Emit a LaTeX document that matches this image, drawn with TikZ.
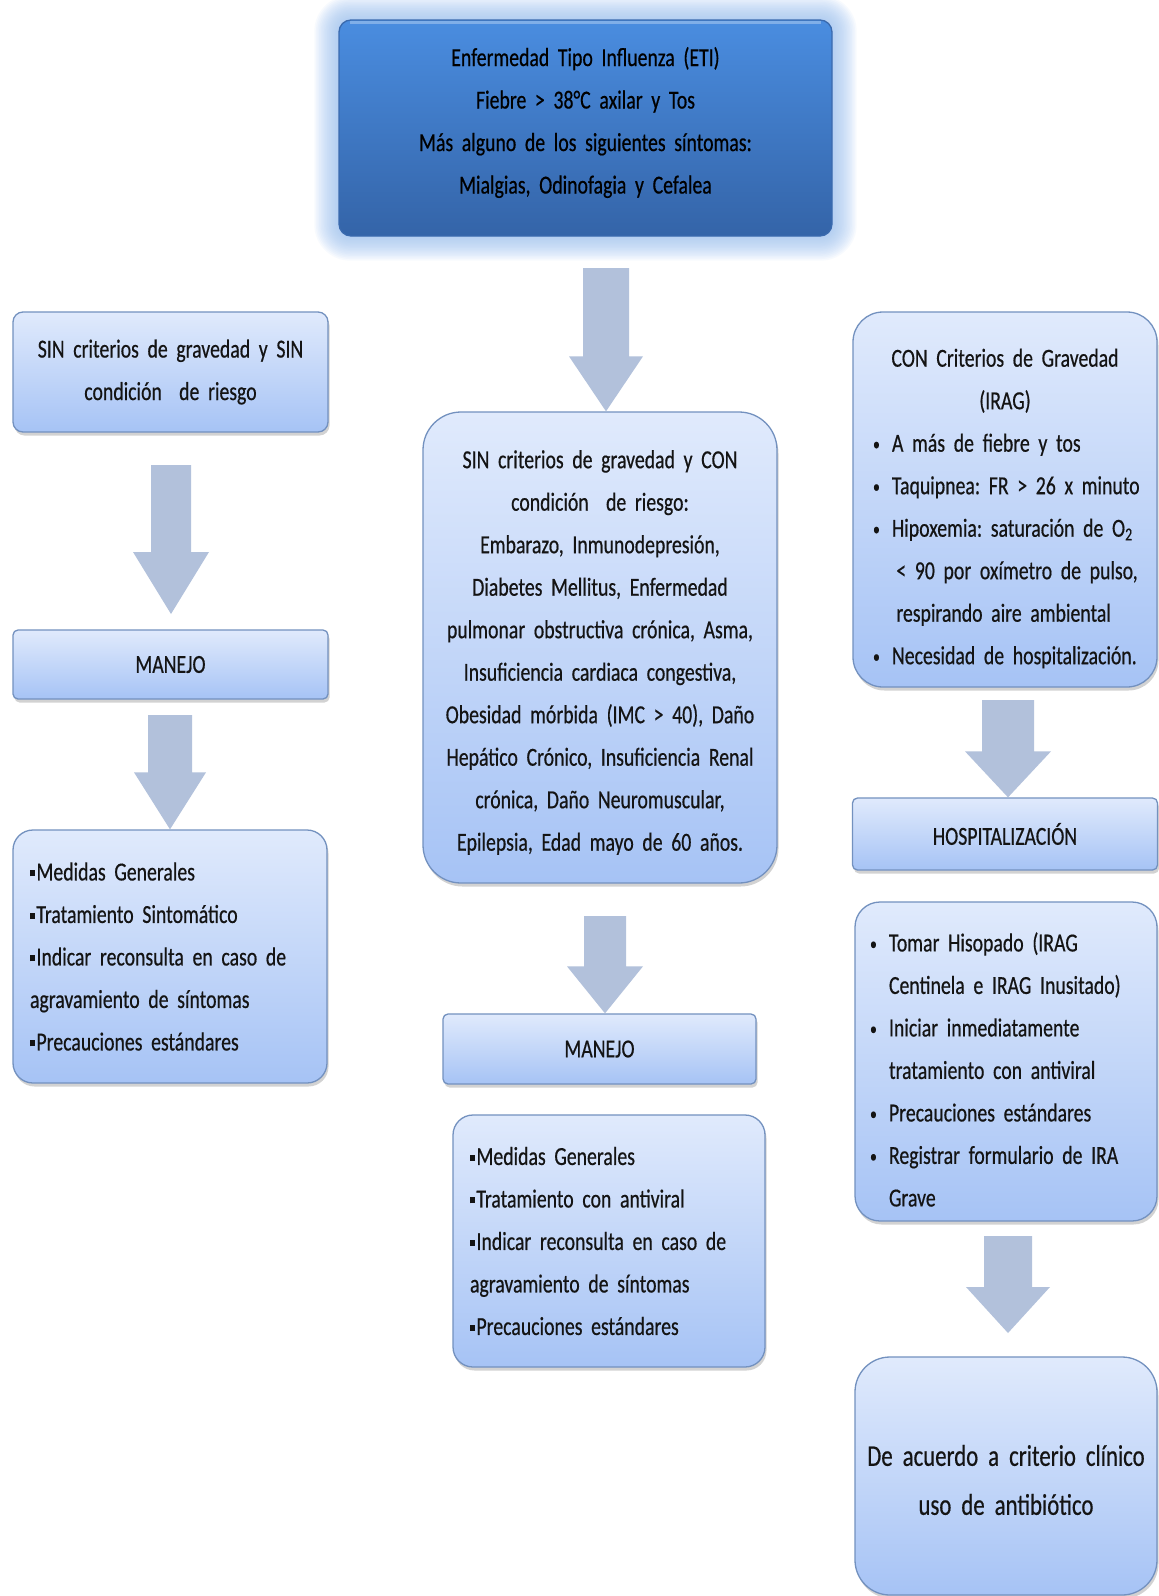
\documentclass[tikz,border=0pt]{standalone}
\usepackage{fontspec}
\setmainfont{Carlito}[FakeStretch=0.76,FakeBold=0.5]
\frenchspacing
\usetikzlibrary{calc,shadows,backgrounds}
\definecolor{arrc}{HTML}{B2C1DB}
\definecolor{ltop}{HTML}{E0EAFC}
\definecolor{lbot}{HTML}{A6C3F5}
\definecolor{lbord}{HTML}{7391BF}
\definecolor{dtop}{HTML}{4A8DE0}
\definecolor{dbot}{HTML}{3464A8}
\definecolor{dbord}{HTML}{3A6AAE}
\definecolor{glowc}{HTML}{9CC2F2}
\definecolor{txt}{HTML}{141414}
\newlength\bulw
\newcommand\bitem[1]{\makebox[\bulw][l]{\makebox[19pt][l]{\raisebox{1.5pt}{\scalebox{0.7}{\textbullet}}}#1}}
\newcommand\citem[1]{\makebox[\bulw][l]{\hspace*{19pt}#1}}
\newcommand\ctr[1]{\makebox[\bulw][c]{#1}}
\newcommand\sqb{\raisebox{4pt}{\rule{5pt}{6pt}}\hspace{1.5pt}}
\newcommand\regfont{\fontsize{26pt}{42.5pt}\selectfont\spaceskip=3.3pt plus 1pt minus 0.5pt\relax}
\newcommand\bigfont{\fontsize{30pt}{49pt}\selectfont\spaceskip=3.9pt plus 1pt minus 0.5pt\relax}
% block arrow: start, tip, half shaft, half head, head length
\newcommand\blockarr[5]{%
  \fill[arrc] let \p1=(#1), \p2=(#2) in
    (\x1-#3,\y1) -- (\x1+#3,\y1) -- (\x1+#3,\y2+#5) -- (\x1+#4,\y2+#5)
    -- (\x1,\y2) -- (\x1-#4,\y2+#5) -- (\x1-#3,\y2+#5) -- cycle;}
\begin{document}
\begin{tikzpicture}[x=1pt,y=-1pt,
  every node/.style={inner sep=0pt, text=txt, font=\regfont},
  lbox/.style={draw=lbord, line width=1.3pt, top color=ltop, bottom color=lbot,
     rounded corners=#1,
     drop shadow={shadow xshift=1.5pt, shadow yshift=-3.5pt, opacity=0.35}},
  lbox/.default=10pt,
  dbox/.style={draw=dbord, line width=1.3pt, top color=dtop, bottom color=dbot,
     rounded corners=12pt}
]
\useasboundingbox (0,0) rectangle (1159,1596);
\begin{scope}[on background layer]
  \fill[white] (0,0) rectangle (1159,1596);
\end{scope}

% top box
\node[dbox, minimum width=493pt, minimum height=216pt] (eti) at (585.5,128) {};
\begin{scope}[on background layer]
  \foreach \i [evaluate=\i as \d using 1.6*\i, evaluate=\i as \rr using 12+1.6*\i] in {1,...,15}{
    \fill[glowc, opacity=0.075, rounded corners=\rr pt]
      ($(eti.north west)+(-\d,-\d)$) rectangle ($(eti.south east)+(\d,\d)$);
  }
\end{scope}
\draw[white, opacity=0.3, line width=3pt]
  ($(eti.north west)+(12,3)$) -- ($(eti.north east)+(-12,3)$);
\node[text width=480pt, align=center, text=black] (etit) at ($(eti.center)+(0,-5.5)$)
  {Enfermedad Tipo Influenza (ETI)\\Fiebre > 38°C axilar y Tos\\Más alguno de los siguientes síntomas:\\Mialgias, Odinofagia y Cefalea};

% left column
\node[lbox=10pt, minimum width=315pt, minimum height=120pt, text width=300pt, align=center]
  (l1) at (170.5,372) {SIN criterios de gravedad y SIN\\condición~ de riesgo};
\node[lbox=5pt, minimum width=315pt, minimum height=69pt, align=center]
  (lm) at (170.5,664.5) {MANEJO};
\node[lbox=20pt, minimum width=314pt, minimum height=253pt, text width=280pt, align=left]
  (l3) at (170,956.5) {\sqb Medidas Generales\\\sqb Tratamiento Sintomático\\\sqb Indicar reconsulta en caso de\\agravamiento de síntomas\\\sqb Precauciones estándares};

% middle column
\node[lbox=38pt, minimum width=354pt, minimum height=471pt] (mid) at (600,647.5) {};
\node[text width=345pt, align=center] (midt) at ($(mid.center)+(0,5)$)
  {SIN criterios de gravedad y CON\\condición~ de riesgo:\\Embarazo, Inmunodepresión,\\Diabetes Mellitus, Enfermedad\\pulmonar obstructiva crónica, Asma,\\Insuficiencia cardiaca congestiva,\\Obesidad mórbida (IMC > 40), Daño\\Hepático Crónico, Insuficiencia Renal\\crónica, Daño Neuromuscular,\\Epilepsia, Edad mayo de 60 años.};
\node[lbox=5pt, minimum width=313pt, minimum height=70pt, align=center]
  (mm) at (599.5,1049) {MANEJO};
\node[lbox=20pt, minimum width=312pt, minimum height=252pt, text width=278pt, align=left]
  (m3) at (609,1241) {\sqb Medidas Generales\\\sqb Tratamiento con antiviral\\\sqb Indicar reconsulta en caso de\\agravamiento de síntomas\\\sqb Precauciones estándares};

% right column
\node[lbox=30pt, minimum width=304pt, minimum height=375pt] (r1) at (1005,499.5) {};
\node[text width=264pt, align=left] (r1t) at ($(r1.center)+(0,9)$)
  {\setlength\bulw{264pt}\ctr{CON Criterios de Gravedad}\\\ctr{(IRAG)}\\\bitem{A más de fiebre y tos}\\\bitem{Taquipnea: FR > 26 x minuto}\\\bitem{Hipoxemia: saturación de O\textsubscript{2}}\\\citem{\,< 90 por oxímetro de pulso,}\\\citem{\,respirando aire ambiental}\\\bitem{Necesidad de hospitalización.}};
\node[lbox=5pt, minimum width=305pt, minimum height=72pt, align=center]
  (rh) at (1005,834) {HOSPITALIZACIÓN};
\node[lbox=25pt, minimum width=302pt, minimum height=319pt] (r3) at (1006,1061.5) {};
\node[text width=272pt, align=left] (r3t) at ($(r3.center)+(0,8)$)
  {\setlength\bulw{272pt}\bitem{Tomar Hisopado (IRAG}\\\citem{Centinela e IRAG Inusitado)}\\\bitem{Iniciar inmediatamente}\\\citem{tratamiento con antiviral}\\\bitem{Precauciones estándares}\\\bitem{Registrar formulario de IRA}\\\citem{Grave}};
\node[lbox=35pt, minimum width=302pt, minimum height=238pt] (r4) at (1006,1476) {};
\node[text width=290pt, align=center, font=\bigfont] (r4t) at ($(r4.center)+(0,4)$)
  {De acuerdo a criterio clínico\\uso de antibiótico};

% block arrows
\coordinate (a1s) at (606,268);
\blockarr{a1s}{a1s |- mid.north}{23pt}{37pt}{55pt}
\coordinate (a2s) at (171,465);
\coordinate (a2e) at (171,614);
\blockarr{a2s}{a2e}{20pt}{38pt}{62pt}
\coordinate (a3s) at (170,715);
\blockarr{a3s}{a3s |- l3.north}{22pt}{36pt}{57pt}
\coordinate (a4s) at (605,916);
\blockarr{a4s}{a4s |- mm.north}{21pt}{38pt}{47pt}
\coordinate (a5s) at (1008,700);
\blockarr{a5s}{a5s |- rh.north}{26pt}{43pt}{46pt}
\coordinate (a6s) at (1008,1236);
\coordinate (a6e) at (1008,1333);
\blockarr{a6s}{a6e}{24pt}{42pt}{46pt}
\end{tikzpicture}
\end{document}
